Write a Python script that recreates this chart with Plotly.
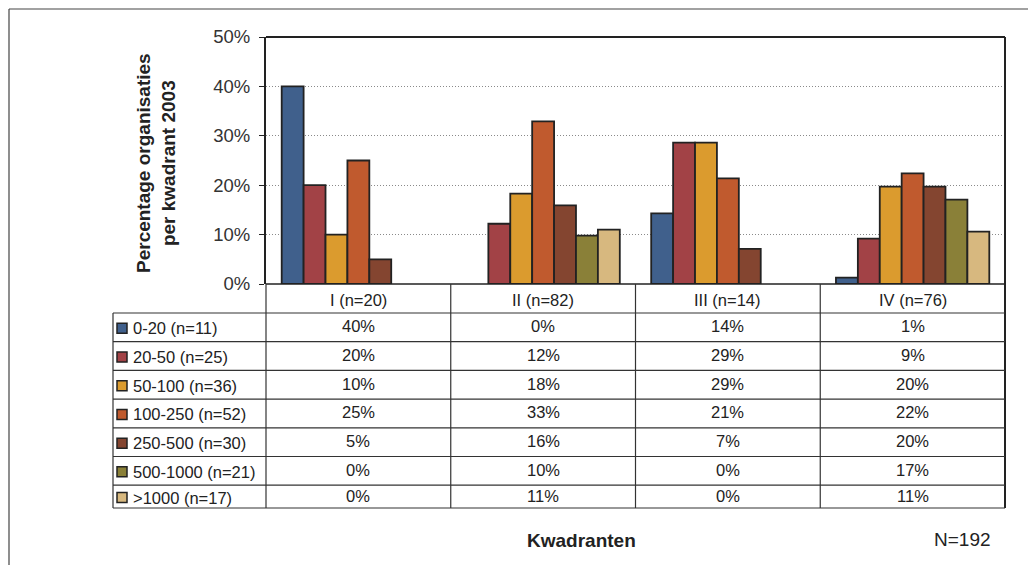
import plotly.graph_objects as go

W, H = 1028, 565

kwadranten = ["I (n=20)", "II (n=82)", "III (n=14)", "IV (n=76)"]
klassen = ["0-20 (n=11)", "20-50 (n=25)", "50-100 (n=36)", "100-250 (n=52)",
           "250-500 (n=30)", "500-1000 (n=21)", ">1000 (n=17)"]

# percentage per kwadrant (I, II, III, IV)
k_0_20 = [40.0, 0.0, 14.3, 1.3]
k_20_50 = [20.0, 12.2, 28.6, 9.2]
k_50_100 = [10.0, 18.3, 28.6, 19.7]
k_100_250 = [25.0, 32.9, 21.4, 22.4]
k_250_500 = [5.0, 15.9, 7.1, 19.7]
k_500_1000 = [0.0, 9.8, 0.0, 17.1]
k_1000_plus = [0.0, 11.0, 0.0, 10.6]

series = [k_0_20, k_20_50, k_50_100, k_100_250, k_250_500, k_500_1000, k_1000_plus]
colors = ["#40608C", "#A24246", "#DB9B2E", "#C05A2E", "#844530", "#8A8038", "#D7B87F"]

FONT = "Liberation Sans, Arial, sans-serif"
DARK = "#222222"


def px(x):
    return x / W


def py(y):
    return 1 - y / H


# plot / table geometry in pixels
X_LEFT, X_RIGHT = 266, 1005
Y_TOP, Y_ZERO = 37, 284
TAB_LEFT = 113
HEAD_BOTTOM = 313
ROW_H = 28.7
TAB_BOTTOM = 508

fig = go.Figure()
for name, vals, col in zip(klassen, series, colors):
    fig.add_trace(go.Bar(
        x=kwadranten, y=[v if v > 0 else None for v in vals], name=name,
        marker=dict(color=col, line=dict(color=DARK, width=1.8)),
        showlegend=False, hoverinfo="skip"))

shapes = []
annotations = []


def hline(y, x0, x1, w=1, color="#333333"):
    shapes.append(dict(type="line", xref="paper", yref="paper", x0=px(x0), x1=px(x1),
                       y0=py(y), y1=py(y), line=dict(color=color, width=w)))


def vline(x, y0, y1, w=1, color="#333333"):
    shapes.append(dict(type="line", xref="paper", yref="paper", x0=px(x), x1=px(x),
                       y0=py(y0), y1=py(y1), line=dict(color=color, width=w)))


def label(x, y, text, size=16.5, xref="paper", xanchor="center", bold=False, angle=0):
    annotations.append(dict(x=x, y=y, xref=xref, yref="paper", text=f"<b>{text}</b>" if bold else text,
                            xanchor=xanchor, yanchor="middle", showarrow=False, textangle=angle,
                            font=dict(size=size, color=DARK, family=FONT)))


# outer frame (partly off the image)
hline(9, 9, W, 1.2, "#444444")
vline(9, 9, H, 1.2, "#444444")

# plot frame
hline(Y_TOP, X_LEFT, X_RIGHT, 2.2, DARK)
vline(X_RIGHT, Y_TOP, TAB_BOTTOM, 2, DARK)
hline(Y_ZERO, X_LEFT, X_RIGHT, 1.5, DARK)

# table grid
row_tops = [HEAD_BOTTOM + i * ROW_H for i in range(len(klassen))]
for y in row_tops:
    hline(y, TAB_LEFT, X_RIGHT, 1.2)
hline(TAB_BOTTOM, TAB_LEFT, X_RIGHT, 1.2)
vline(TAB_LEFT, HEAD_BOTTOM, TAB_BOTTOM, 1.2)
vline(X_LEFT, Y_ZERO, TAB_BOTTOM, 1.2)
for i in range(len(kwadranten) - 1):
    shapes.append(dict(type="line", xref="x", yref="paper", x0=i + 0.5, x1=i + 0.5,
                       y0=py(Y_ZERO), y1=py(TAB_BOTTOM), line=dict(color="#333333", width=1.2)))

# header labels
for k in kwadranten:
    label(k, py((Y_ZERO + HEAD_BOTTOM) / 2 + 1), k, xref="x")

# rows
for r, (name, vals, col) in enumerate(zip(klassen, series, colors)):
    top = row_tops[r]
    bottom = row_tops[r + 1] if r + 1 < len(row_tops) else TAB_BOTTOM
    yc = (top + bottom) / 2
    shapes.append(dict(type="rect", xref="paper", yref="paper",
                       x0=px(117), x1=px(127), y0=py(yc + 6), y1=py(yc - 4),
                       fillcolor=col, line=dict(color=DARK, width=1.5)))
    label(px(131), py(yc + 1), name, xanchor="left")
    for k, v in zip(kwadranten, vals):
        label(k, py(yc - 1), f"{round(v)}%", xref="x")

# titles
label(px(156), py(163), "Percentage organisaties<br>per kwadrant 2003", size=19, bold=True, angle=-90)
label(px(581), py(540), "Kwadranten", size=19, bold=True)
label(px(993), py(539), "N=192", size=19, xanchor="right")

fig.update_layout(
    width=W, height=H,
    margin=dict(l=0, r=0, t=0, b=0, autoexpand=False),
    paper_bgcolor="white", plot_bgcolor="white",
    barmode="group", bargap=0.17, bargroupgap=0,
    font=dict(family=FONT, color=DARK),
    xaxis=dict(domain=[px(X_LEFT), px(X_RIGHT)], range=[-0.5, 3.5], automargin=False,
               showticklabels=False, showgrid=False, zeroline=False, showline=False,
               fixedrange=True),
    yaxis=dict(domain=[py(Y_ZERO), py(Y_TOP)], range=[0, 50], dtick=10, automargin=False,
               ticksuffix="%", ticks="outside", ticklen=5, tickcolor=DARK, tickwidth=1.2,
               ticklabelstandoff=5,
               tickfont=dict(size=18.5, color="#333333", family=FONT),
               showline=True, linecolor=DARK, linewidth=2,
               showgrid=True, gridcolor="#8a8a8a", griddash="1px,2px", gridwidth=1,
               zeroline=False, fixedrange=True),
    shapes=shapes,
    annotations=annotations,
)

pin = ("document.body.style.margin='0';document.body.style.overflow='hidden';"
       "var d=document.getElementById('{plot_id}');"
       "d.style.position='fixed';d.style.left='0px';d.style.top='0px';")
fig.write_html("out.html", config={"displayModeBar": False}, post_script=pin)
